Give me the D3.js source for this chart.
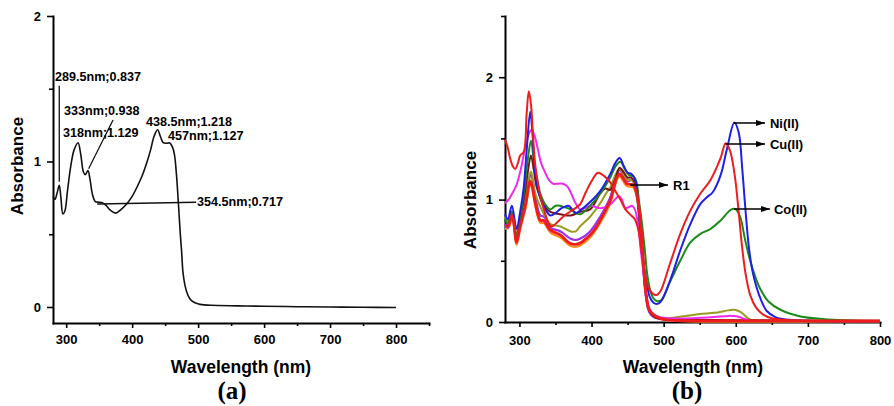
<!DOCTYPE html>
<html><head><meta charset="utf-8">
<script src="https://cdn.jsdelivr.net/npm/d3@7"></script>
<style>
body{margin:0;background:#fff}
text{font-family:"Liberation Sans",Arial,sans-serif;font-weight:bold;fill:#000}
</style>
</head><body>
<svg id="c" width="894" height="406"></svg>
<script>
// ---------- DATA ----------
// Panel (a): free ligand spectrum [wavelength nm, absorbance]
const spectrumA = [[280,0.76],[283,0.74],[286,0.78],[289.5,0.837],[292,0.75],[295,0.64],[298,0.66],[302,0.80],[307,0.97],[312,1.08],[318,1.129],[322,1.05],[326,0.93],[329,0.91],[333,0.938],[336,0.88],[340,0.77],[344,0.725],[350,0.72],[354.5,0.717],[360,0.70],[367,0.665],[375,0.645],[383,0.67],[392,0.71],[400,0.76],[408,0.83],[415,0.90],[422,0.99],[428,1.08],[433,1.17],[438.5,1.218],[443,1.17],[447,1.13],[452,1.125],[457,1.127],[461,1.10],[464,1.05],[467,0.92],[470,0.72],[473,0.5],[475,0.38],[477,0.24],[480,0.15],[483,0.10],[487,0.06],[491,0.04],[497,0.025],[503,0.018],[520,0.012],[560,0.008],[600,0.005],[650,0.002],[700,0.0],[750,-0.002],[800,-0.003]];

// Panel (a) peak annotations: label, label nm/abs (text start), leader line
const annLabelsA = ["289.5nm;0.837","333nm;0.938","318nm;1.129","438.5nm;1.218","457nm;1.127","354.5nm;0.717"];
const annTextPosA = [[283,1.55],[296.7,1.319],[295.2,1.168],[421,1.245],[454.3,1.150],[498.3,0.694]];
const annLeadersA = [[[289.5,1.52],[289.5,0.86]],[[371,1.285],[334,0.95]],null,null,null,[[347,0.708],[497,0.72]]];

// Panel (b) series
const seriesNames = ["Orange","Purple","Olive","Maroon","Magenta","Co(II)","Ni(II)","Cu(II)","R1"];
const seriesColors = ["#ff8c1a","#9b30e8","#9a9a20","#7a1414","#ee2aee","#1a8a1a","#1f1fe8","#ee1c1c","#ee1c1c"];
const seriesWidths = [2.2,2.2,2,2,2,2,2,2,2.8];

const sOrange = [[280,0.76],[285,0.77],[289.5,0.85],[292,0.8],[296,0.63],[301,0.76],[308,0.92],[315,1.13],[318,1.08],[322,0.95],[329,0.81],[334,0.81],[343,0.73],[357,0.69],[371,0.62],[378,0.615],[384,0.625],[398,0.69],[412,0.81],[426,0.97],[435,1.16],[439,1.19],[449,1.11],[458,1.1],[462,1.04],[465,0.95],[468,0.78],[470,0.65],[474,0.3],[477,0.16],[480,0.1],[486,0.05],[495,0.025],[510,0.012],[800,0.006]];
const sPurple = [[280,0.8],[284,0.77],[289.5,0.88],[296,0.67],[301,0.8],[308,0.98],[316,1.2],[322,1.02],[329,0.87],[334,0.86],[343,0.77],[357,0.74],[371,0.68],[378,0.67],[384,0.68],[398,0.74],[412,0.86],[426,1.02],[433,1.17],[439,1.24],[445,1.19],[450,1.15],[456,1.16],[460,1.12],[464,0.98],[468,0.72],[472,0.42],[476,0.18],[480,0.08],[486,0.04],[495,0.025],[520,0.015],[800,0.008]];
const sOlive = [[280,0.86],[284,0.82],[289.5,0.9],[296,0.7],[301,0.84],[306,0.98],[311,1.12],[316,1.23],[322,1.05],[329,0.94],[336,0.86],[343,0.8],[357,0.78],[371,0.74],[378,0.74],[384,0.78],[398,0.86],[412,0.97],[420,1.05],[426,1.1],[433,1.2],[439,1.25],[445,1.2],[450,1.16],[456,1.16],[460,1.12],[464,0.98],[468,0.72],[472,0.45],[476,0.22],[480,0.1],[485,0.05],[492,0.035],[505,0.03],[520,0.04],[550,0.065],[570,0.075],[590,0.095],[598,0.1],[607,0.08],[617,0.03],[625,0.012],[650,0.008],[800,0.005]];
const sMaroon = [[280,0.83],[284,0.8],[289.5,0.9],[296,0.7],[301,0.85],[306,1.0],[311,1.2],[316,1.36],[320,1.24],[324,1.1],[331,0.99],[337,0.93],[343,0.9],[357,0.88],[371,0.87],[384,0.9],[398,0.92],[412,1.05],[419,1.09],[426,1.08],[433,1.17],[439,1.26],[445,1.22],[450,1.18],[455,1.18],[460,1.14],[464,1.0],[468,0.75],[472,0.45],[476,0.22],[480,0.1],[485,0.05],[492,0.03],[510,0.02],[600,0.015],[800,0.01]];
const sMagenta = [[280,0.97],[285,1.0],[290,1.05],[296,1.12],[302,1.25],[308,1.42],[314,1.55],[317,1.57],[321,1.52],[326,1.4],[330,1.3],[335,1.23],[341,1.16],[347,1.13],[354,1.13],[360,1.13],[366,1.11],[371,1.06],[377,0.98],[384,0.92],[391,0.93],[398,0.95],[405,0.94],[412,0.93],[420,0.94],[428,0.97],[434,1.01],[438,1.03],[442,1.0],[447,0.93],[452,0.94],[456,0.95],[460,0.92],[464,0.82],[468,0.6],[471,0.45],[474,0.3],[477,0.18],[481,0.1],[486,0.06],[495,0.04],[510,0.03],[540,0.03],[570,0.04],[590,0.05],[603,0.045],[612,0.025],[622,0.01],[650,0.008],[800,0.008]];
const sCo = [[280,0.84],[284,0.8],[289.5,0.9],[296,0.7],[301,0.86],[306,1.05],[311,1.3],[316,1.48],[320,1.32],[324,1.18],[329,1.05],[336,0.96],[343,0.92],[350,0.95],[356,0.95],[361,0.94],[367,0.93],[373,0.91],[384,0.88],[398,0.95],[412,1.05],[426,1.18],[433,1.27],[440,1.31],[446,1.25],[452,1.2],[458,1.19],[462,1.15],[466,0.98],[470,0.8],[474,0.58],[477,0.4],[481,0.27],[485,0.2],[491,0.17],[497,0.18],[509,0.33],[523,0.5],[537,0.65],[551,0.72],[565,0.76],[579,0.83],[594,0.92],[600,0.92],[606,0.86],[613,0.67],[620,0.5],[627,0.37],[634,0.27],[645,0.17],[662,0.1],[690,0.045],[720,0.025],[760,0.012],[800,0.005]];
const sNi = [[280,0.88],[284,0.84],[289.5,0.95],[296,0.76],[301,0.9],[306,1.1],[310,1.4],[315,1.72],[318,1.55],[322,1.21],[329,1.01],[336,0.92],[343,0.87],[350,0.89],[356,0.92],[362,0.94],[368,0.95],[373,0.92],[378,0.89],[384,0.91],[398,0.98],[412,1.07],[426,1.21],[433,1.3],[439,1.34],[445,1.27],[450,1.22],[455,1.21],[460,1.17],[464,1.02],[467,0.8],[471,0.55],[474,0.4],[478,0.27],[481,0.2],[488,0.15],[495,0.16],[509,0.34],[523,0.585],[537,0.8],[551,0.965],[560,1.02],[568,1.06],[579,1.2],[588,1.42],[598,1.63],[604,1.55],[609,1.25],[613,0.95],[618,0.62],[623,0.42],[629,0.28],[635,0.18],[643,0.09],[655,0.04],[670,0.02],[700,0.01],[800,0.005]];
const sCu = [[280,1.49],[284,1.42],[287,1.34],[291,1.27],[294,1.25],[298,1.3],[301,1.36],[306,1.39],[310,1.7],[313,1.885],[316,1.78],[319,1.5],[322,1.28],[326,1.12],[330,1.0],[336,0.88],[341,0.8],[345,0.78],[355,0.83],[365,0.88],[375,0.92],[384,0.96],[392,1.06],[400,1.15],[409,1.22],[418,1.19],[426,1.14],[432,1.08],[440,1.0],[447,0.92],[455,0.87],[460,0.84],[465,0.75],[470,0.55],[474,0.4],[479,0.28],[485,0.23],[490,0.22],[495,0.245],[509,0.48],[523,0.72],[537,0.91],[551,1.05],[565,1.16],[579,1.34],[586,1.46],[592,1.4],[599,1.18],[604,0.9],[609,0.6],[614,0.38],[620,0.22],[628,0.12],[638,0.06],[650,0.03],[680,0.012],[800,0.005]];
const sR1 = [[280,0.78],[285,0.79],[289.5,0.87],[292,0.82],[296,0.65],[301,0.78],[308,0.94],[315,1.15],[318,1.1],[322,0.97],[329,0.83],[333.6,0.83],[338,0.79],[343,0.75],[357,0.71],[366,0.66],[371,0.64],[378,0.635],[384,0.645],[391,0.675],[398,0.71],[405,0.76],[412,0.83],[420,0.92],[426,0.99],[431,1.1],[435,1.18],[439,1.21],[444,1.17],[449,1.13],[454,1.125],[458,1.12],[462,1.06],[465,0.97],[468,0.8],[470,0.67],[474,0.31],[477,0.17],[479,0.11],[486,0.06],[495,0.03],[510,0.015],[600,0.01],[800,0.008]];
const seriesB = [sOrange,sPurple,sOlive,sMaroon,sMagenta,sCo,sNi,sCu,sR1];

// Panel (b) arrow labels: label, arrow start [nm,abs], arrow tip nm, text nm
const annLabelsB = ["R1","Ni(II)","Cu(II)","Co(II)"];
const annStartB = [[453.6,1.12],[597.5,1.626],[586,1.454],[597.5,0.923]];
const annTipB = [506,640.5,640.5,647.4];
const annTextB = [513,647.4,647.4,653];

// Axis ticks
const xMajorA = [300,400,500,600,700,800], xMinorA = [350,450,550,650,750,850];
const yMajorA = [0,1,2], yMinorA = [0.5,1.5];
const xMajorB = [300,400,500,600,700,800], xMinorB = [350,450,550,650,750];
const yMajorB = [0,1,2], yMinorB = [0.5,1.5,2.5];

// ---------- DRAW ----------
const svg = d3.select("#c");
const xA = d3.scaleLinear().domain([280,850]).range([53,429]);
const yA = d3.scaleLinear().domain([-0.11,2]).range([323,16]);
const xB = d3.scaleLinear().domain([280,800]).range([505,880]);
const yB = d3.scaleLinear().domain([0,2.5]).range([322,16]);

svg.append("defs").append("marker").attr("id","ah")
  .attr("viewBox","0 0 9 6").attr("refX",9).attr("refY",3)
  .attr("markerWidth",9).attr("markerHeight",6).attr("markerUnits","userSpaceOnUse")
  .attr("orient","auto").append("path").attr("d","M0,0L9,3L0,6Z").attr("fill","#000");

function axes(x, y, xMaj, xMin, yMaj, yMin, xPad) {
  const g = svg.append("g");
  g.append("g").attr("transform",`translate(0,${y.range()[0]})`)
    .call(d3.axisBottom(x).tickValues(xMaj).tickSize(5).tickSizeOuter(0).tickPadding(xPad).tickFormat(d3.format("d")));
  g.append("g").attr("transform",`translate(0,${y.range()[0]})`)
    .call(d3.axisBottom(x).tickValues(xMin).tickSize(3).tickSizeOuter(0).tickFormat(""))
    .select(".domain").remove();
  g.append("g").attr("transform",`translate(${x.range()[0]},0)`)
    .call(d3.axisLeft(y).tickValues(yMaj).tickSize(6).tickSizeOuter(0).tickPadding(6).tickFormat(d3.format("d")));
  g.append("g").attr("transform",`translate(${x.range()[0]},0)`)
    .call(d3.axisLeft(y).tickValues(yMin).tickSize(4).tickSizeOuter(0).tickFormat(""))
    .select(".domain").remove();
  g.selectAll(".domain").attr("stroke","#000").attr("stroke-width",2).attr("stroke-linecap","square");
  g.selectAll(".tick line").attr("stroke","#000").attr("stroke-width",1.6);
  g.selectAll(".tick text").style("font-size","13px").style("font-weight","bold")
    .style("font-family","'Liberation Sans',Arial,sans-serif");
  return g;
}

// Panel (a)
axes(xA, yA, xMajorA, xMinorA, yMajorA, yMinorA, 7);
const lineA = d3.line().x(d=>xA(d[0])).y(d=>yA(d[1])).curve(d3.curveCatmullRom.alpha(0.5));
svg.append("path").datum(spectrumA).attr("d",lineA).attr("fill","none").attr("stroke","#111").attr("stroke-width",1.6);

annLabelsA.forEach((t,i)=>{
  svg.append("text").attr("x",xA(annTextPosA[i][0])).attr("y",yA(annTextPosA[i][1]))
    .style("font-size","12.6px").text(t);
  const L = annLeadersA[i];
  if (L) svg.append("line").attr("x1",xA(L[0][0])).attr("y1",yA(L[0][1]))
    .attr("x2",xA(L[1][0])).attr("y2",yA(L[1][1])).attr("stroke","#111").attr("stroke-width",1.3);
});

// Panel (b)
axes(xB, yB, xMajorB, xMinorB, yMajorB, yMinorB, 9);
const lineB = d3.line().x(d=>xB(d[0])).y(d=>yB(d[1])).curve(d3.curveCatmullRom.alpha(0.5));
seriesB.forEach((s,i)=>{
  svg.append("path").datum(s).attr("d",lineB).attr("fill","none")
    .attr("stroke",seriesColors[i]).attr("stroke-width",seriesWidths[i]).attr("stroke-linejoin","round");
});
annLabelsB.forEach((t,i)=>{
  const yy = yB(annStartB[i][1]);
  svg.append("line").attr("x1",xB(annStartB[i][0])).attr("y1",yy).attr("x2",xB(annTipB[i])).attr("y2",yy)
    .attr("stroke","#000").attr("stroke-width",1.5).attr("marker-end","url(#ah)");
  svg.append("text").attr("x",xB(annTextB[i])).attr("y",yy).attr("dy","0.36em").style("font-size","13px").text(t);
});

// Titles
function titles(x, ax, ay, lx, letter) {
  svg.append("text").attr("x",x).attr("y",373).attr("text-anchor","middle").style("font-size","17.5px").text("Wavelength (nm)");
  svg.append("text").attr("transform",`translate(${ax},${ay}) rotate(-90)`).attr("text-anchor","middle")
    .style("font-size","17px").text("Absorbance");
  svg.append("text").attr("x",lx).attr("y",399).attr("text-anchor","middle")
    .style("font-family","'Liberation Serif','Times New Roman',serif").style("font-size","25px").text(letter);
}
titles(241, 23, 166, 232, "(a)");
titles(693, 476, 200, 687, "(b)");
</script>
</body></html>
